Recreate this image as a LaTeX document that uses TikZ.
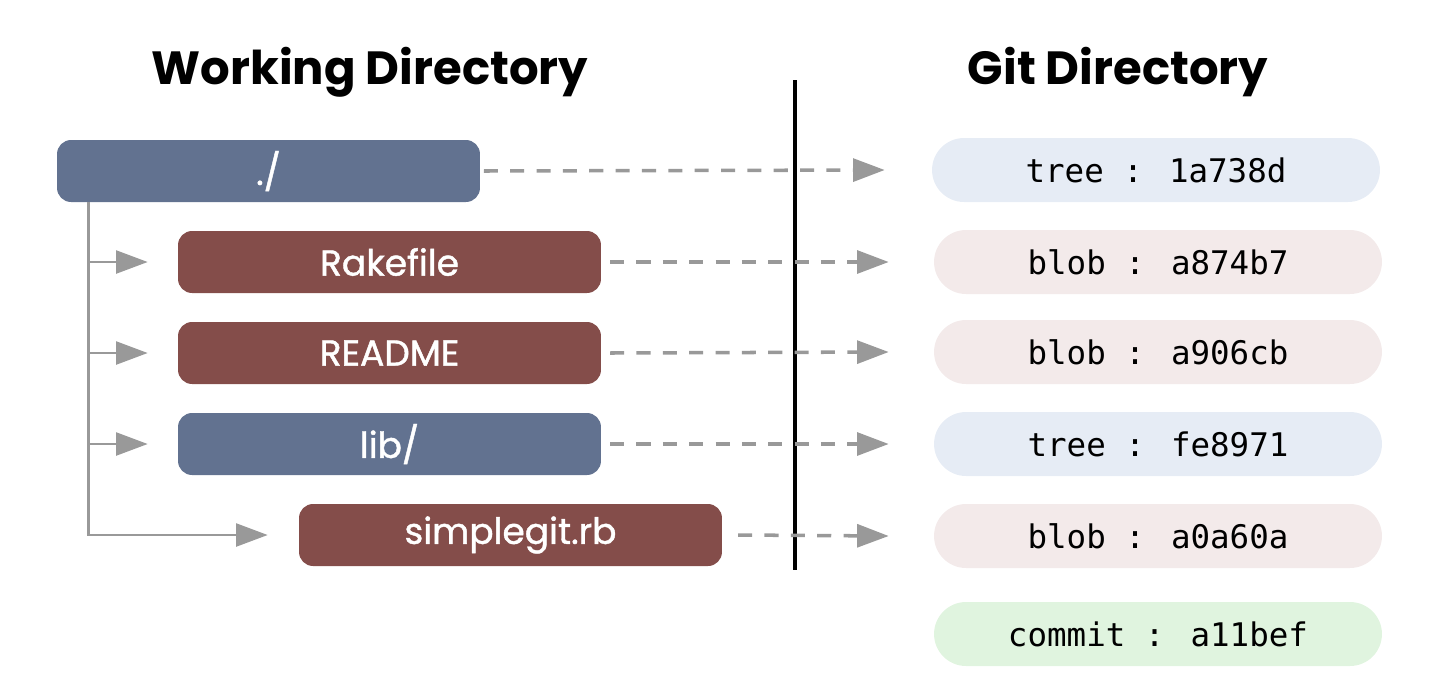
\documentclass[tikz,border=0pt]{standalone}
\usepackage{fontspec}
\setmainfont{Poppins}
\newfontfamily\labelfont{Poppins}[FakeBold=1.2]
\newfontfamily\hashfont{DejaVu Sans Mono}
\usetikzlibrary{arrows.meta}

\definecolor{treeblue}{HTML}{627290}
\definecolor{blobred}{HTML}{844D4A}
\definecolor{treepill}{HTML}{E6ECF5}
\definecolor{blobpill}{HTML}{F3EAEA}
\definecolor{commitpill}{HTML}{E0F4DF}
\definecolor{linkgray}{HTML}{999999}

\tikzset{
  title/.style={font=\bfseries\fontsize{26.5}{30}\selectfont, inner sep=0pt},
  file/.style={rounded corners=0.28cm, minimum width=8.46cm, minimum height=1.24cm,
    inner sep=0pt, text=white, font=\labelfont\fontsize{20.5}{24}\selectfont},
  object/.style={rounded corners=0.64cm, minimum width=8.96cm, minimum height=1.28cm,
    inner sep=0pt, font=\hashfont\fontsize{18.5}{22}\selectfont},
  link/.style={linkgray, line width=2pt, dash pattern=on 8pt off 7pt,
    -{Triangle[length=18pt,width=13pt]}},
  branch/.style={linkgray, line width=1.6pt, -{Triangle[length=18pt,width=13pt]}}
}

\begin{document}
\begin{tikzpicture}[x=0.02cm, y=-0.02cm]

	\useasboundingbox (0,0) rectangle (1430,684);

	% Titles
	\node[title] (wdtitle) at (370,72) {Working Directory};
	\node[title] (gdtitle) at (1118,72) {Git Directory};

	% Working directory
	\node[file, fill=treeblue] (root)   at (268.5,171) {./};
	\node[file, fill=blobred]  (rake)   at (389.5,262) {Rakefile};
	\node[file, fill=blobred]  (readme) at (389.5,353) {README};
	\node[file, fill=treeblue] (lib)    at (389.5,444) {lib/};
	\node[file, fill=blobred]  (simple) at (510.5,535) {simplegit.rb};

	% Tree
	\coordinate (trunk) at ([xshift=0.64cm]root.south west);
	\draw[branch] (trunk) |- ([xshift=-0.62cm]simple.west);
	\draw[branch] (trunk |- rake)   -- ([xshift=-0.6cm]rake.west);
	\draw[branch] (trunk |- readme) -- ([xshift=-0.6cm]readme.west);
	\draw[branch] (trunk |- lib)    -- ([xshift=-0.6cm]lib.west);

	% Git directory
	\node[object, fill=treepill]   (obj1) at (1156,170) {tree : 1a738d};
	\node[object, fill=blobpill]   (obj2) at (1158,262) {blob : a874b7};
	\node[object, fill=blobpill]   (obj3) at (1158,352) {blob : a906cb};
	\node[object, fill=treepill]   (obj4) at (1158,444) {tree : fe8971};
	\node[object, fill=blobpill]   (obj5) at (1158,536) {blob : a0a60a};
	\node[object, fill=commitpill] (obj6) at (1158,634) {commit : a11bef};

	% Divider
	\draw[line width=2pt] (795,80) -- (795,570);

	% Links
	\draw[link] ([xshift=2pt]root.east)    -- ([xshift=-0.94cm]obj1.west);
	\draw[link] ([xshift=5pt]rake.east)    -- ([xshift=-0.9cm]obj2.west);
	\draw[link] ([xshift=5pt]readme.east)  -- ([xshift=-0.9cm]obj3.west);
	\draw[link] ([xshift=5pt]lib.east)     -- ([xshift=-0.9cm]obj4.west);
	\draw[link] ([xshift=9pt]simple.east)  -- ([xshift=-0.9cm]obj5.west);

\end{tikzpicture}
\end{document}
